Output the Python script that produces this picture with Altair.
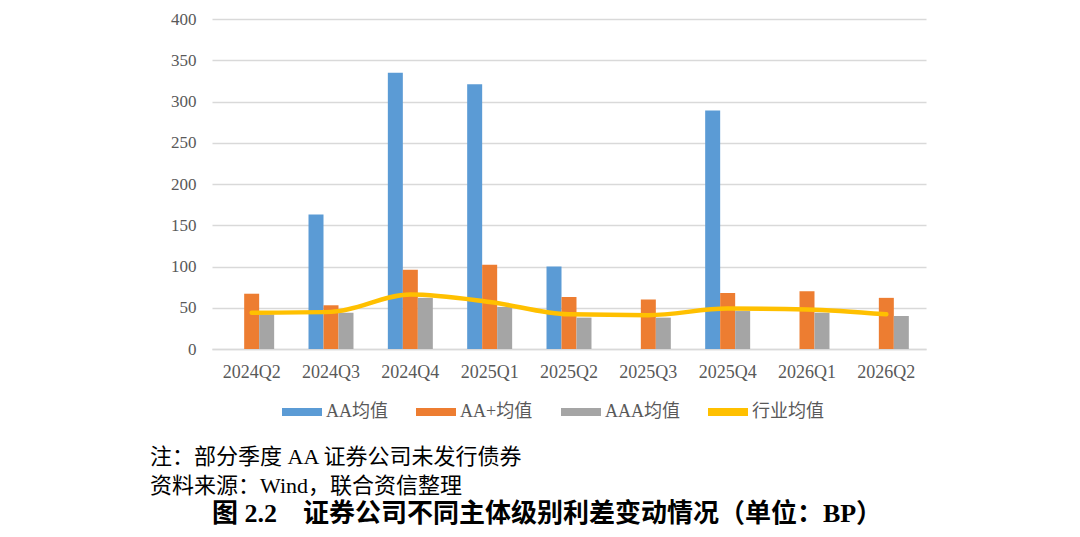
import altair as alt
import pandas as pd

quarters = ["2024Q2", "2024Q3", "2024Q4", "2025Q1", "2025Q2", "2025Q3", "2025Q4", "2026Q1", "2026Q2"]
series_names = ["AA均值", "AA+均值", "AAA均值", "行业均值"]
aa_values = [None, 163, 335, 321, 100, None, 289, None, None]
aa_plus_values = [67, 53, 96, 102, 63, 60, 68, 70, 62]
aaa_values = [42, 44, 62, 51, 38, 38, 46, 44, 40]
industry_values = [44, 45, 66, 57, 42, 41, 49, 48, 42]
colors = ["#5B9BD5", "#ED7D31", "#A5A5A5", "#FFC000"]

note_1 = "注：部分季度 AA 证券公司未发行债券"
note_2 = "资料来源：Wind，联合资信整理"
fig_title = "图 2.2\u3000证券公司不同主体级别利差变动情况（单位：BP）"

FONT = "Liberation Serif, Noto Sans CJK SC, serif"

rows = []
for s, vals in zip(series_names[:3], [aa_values, aa_plus_values, aaa_values]):
    for q, v in zip(quarters, vals):
        if v is not None:
            rows.append({"quarter": q, "series": s, "value": v})
bar_df = pd.DataFrame(rows)
line_df = pd.DataFrame({"quarter": quarters, "series": series_names[3], "value": industry_values})

color_scale = alt.Scale(domain=series_names, range=colors)
x_enc = alt.X(
    "quarter:N",
    sort=quarters,
    scale=alt.Scale(domain=quarters, paddingInner=0.433, paddingOuter=0.2165),
    axis=alt.Axis(title=None, labelAngle=0, labelFontSize=18, labelColor="#595959",
                  labelFont=FONT, ticks=False, tickSize=0, labelPadding=14,
                  domainColor="#D9D9D9", domainWidth=1.5, grid=False),
)
y_enc = alt.Y(
    "value:Q",
    scale=alt.Scale(domain=[0, 400], nice=False),
    axis=alt.Axis(title=None, values=list(range(0, 401, 50)), labelFontSize=17,
                  labelColor="#595959", labelFont=FONT, ticks=False, tickSize=0,
                  labelPadding=16, domain=False, gridColor="#D9D9D9", gridWidth=1.5),
)

legend = alt.Legend(
    title=None, orient="none", legendX=70, legendY=373, direction="horizontal",
    symbolType="M-1,-0.2L1,-0.2L1,0.2L-1,0.2Z", symbolSize=1600, symbolStrokeWidth=0,
    labelFontSize=18, labelFont=FONT, labelColor="#595959", labelOffset=4, columnPadding=28,
)

bars = alt.Chart(bar_df).mark_bar().encode(
    x=x_enc,
    xOffset=alt.XOffset("series:N", sort=series_names[:3],
                        scale=alt.Scale(domain=series_names[:3], paddingInner=0, paddingOuter=0)),
    y=y_enc,
    color=alt.Color("series:N", scale=color_scale, legend=legend),
)

line = alt.Chart(line_df).mark_line(strokeWidth=4.5, interpolate="monotone", strokeCap="round").encode(
    x=alt.X("quarter:N", sort=quarters),
    y=alt.Y("value:Q"),
    color=alt.Color("series:N", scale=color_scale, legend=legend),
)

t1 = alt.Chart(pd.DataFrame({"t": [note_1]})).mark_text(
    align="left", baseline="middle", fontSize=22, font=FONT, color="#000000"
).encode(x=alt.value(-62), y=alt.value(438), text="t:N")
t2 = alt.Chart(pd.DataFrame({"t": [note_2]})).mark_text(
    align="left", baseline="middle", fontSize=22, font=FONT, color="#000000"
).encode(x=alt.value(-62), y=alt.value(467), text="t:N")
t3 = alt.Chart(pd.DataFrame({"t": [fig_title]})).mark_text(
    align="center", baseline="middle", fontSize=26, fontWeight="bold", font=FONT, color="#000000"
).encode(x=alt.value(335), y=alt.value(495), text="t:N")

chart = alt.layer(bars, line, t1, t2, t3).properties(
    width=714, height=330,
    autosize=alt.AutoSizeParams(type="none"),
    padding={"left": 204, "top": 11, "right": 140, "bottom": 178},
    background="white",
).configure_view(stroke=None)

chart.save("out.html", embed_options={"renderer": "svg", "actions": False})
